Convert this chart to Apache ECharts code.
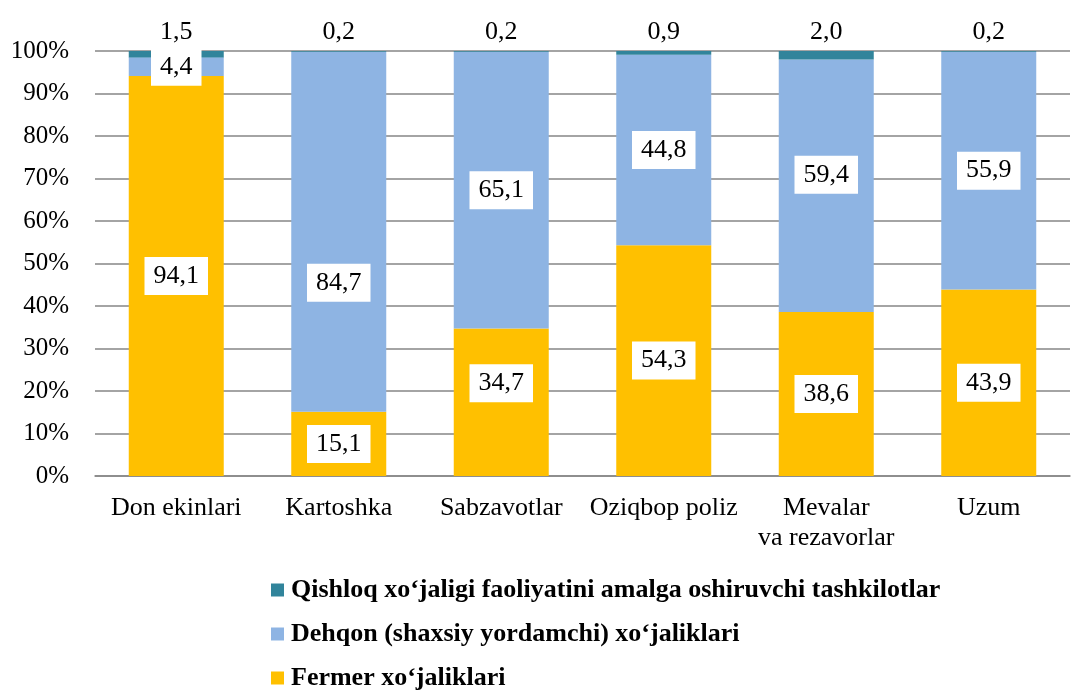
<!DOCTYPE html>
<html><head><meta charset="utf-8">
<script src="https://cdn.jsdelivr.net/npm/echarts@6/dist/echarts.min.js"></script>
<style>html,body{margin:0;padding:0;background:#fff}#c{width:1076px;height:693px}</style>
</head><body><div id="c"></div>
<script>
const categories = ['Don ekinlari', 'Kartoshka', 'Sabzavotlar', 'Oziqbop poliz', 'Mevalar\nva rezavorlar', 'Uzum'];
const fermer = [94.1, 15.1, 34.7, 54.3, 38.6, 43.9];
const dehqon = [4.4, 84.7, 65.1, 44.8, 59.4, 55.9];
const tashkilot = [1.5, 0.2, 0.2, 0.9, 2.0, 0.2];
const yTicks = [0, 10, 20, 30, 40, 50, 60, 70, 80, 90, 100];
const seriesNames = ['Qishloq xoʻjaligi faoliyatini amalga oshiruvchi tashkilotlar', 'Dehqon (shaxsiy yordamchi) xoʻjaliklari', 'Fermer xoʻjaliklari'];

// label position tweaks (style, not data)
const dehqonOffsets = [0, 51, 0, 0, -11, 0];
const fermerOffsets = [0, 0, -19, 0, 0, 0];

const font = 'Liberation Serif, Times New Roman, serif';
const fmt = v => v.toFixed(1).replace('.', ',');
const boxLabel = {
  show: true, position: 'inside', color: '#000', fontFamily: font, fontSize: 26, lineHeight: 26,
  backgroundColor: '#fff', padding: [6, 9], formatter: p => fmt(p.value)
};
function items(arr, offs) {
  return arr.map((v, i) => ({ value: v, label: { offset: [0, offs[i]] } }));
}
const chart = echarts.init(document.getElementById('c'));
chart.setOption({
  animation: false,
  grid: { left: 95, right: 6, top: 51, bottom: 217 },
  legend: {
    orient: 'vertical', left: 271, top: 577, height: 116, itemGap: 18, itemWidth: 13, itemHeight: 13,
    padding: 0,
    data: [seriesNames[0], seriesNames[1], seriesNames[2]],
    textStyle: { fontFamily: font, fontSize: 26, lineHeight: 26, fontWeight: 'bold', color: '#000', padding: [0, 0, 0, 2] },
    icon: 'rect'
  },
  xAxis: {
    type: 'category', data: categories,
    axisLine: { lineStyle: { color: '#868686', width: 1.5 } },
    axisTick: { show: false },
    axisLabel: { interval: 0, fontFamily: font, fontSize: 26, color: '#000', margin: 17, lineHeight: 30 }
  },
  yAxis: {
    type: 'value', min: 0, max: 100, interval: 10,
    axisLine: { show: false }, axisTick: { show: false },
    axisLabel: { fontFamily: font, fontSize: 25, color: '#000', margin: 26, formatter: v => v + '%' },
    splitLine: { lineStyle: { color: '#868686', width: 1.5 } }
  },
  series: [
    { name: seriesNames[2], type: 'bar', stack: 's', barWidth: 95, data: items(fermer, fermerOffsets),
      itemStyle: { color: '#FFC000' }, label: boxLabel },
    { name: seriesNames[1], type: 'bar', stack: 's', barWidth: 95, data: items(dehqon, dehqonOffsets),
      itemStyle: { color: '#8EB4E3' }, label: boxLabel },
    { name: seriesNames[0], type: 'bar', stack: 's', barWidth: 95, data: tashkilot,
      itemStyle: { color: '#31849B' },
      label: { show: true, position: 'top', distance: 6, color: '#000', fontFamily: font, fontSize: 26, formatter: p => fmt(p.value) } }
  ]
});
</script></body></html>
